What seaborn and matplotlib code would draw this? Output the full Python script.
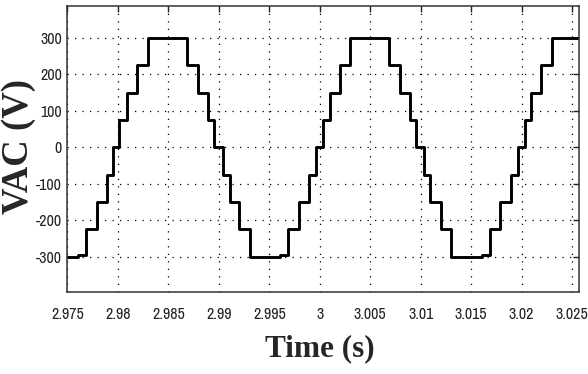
import matplotlib
matplotlib.use("Agg")
import matplotlib.pyplot as plt
from matplotlib import font_manager
import seaborn as sns
import pandas as pd

t_start = 2.975
t_end = 3.0257
v_start = -300
edge_times = [2.97607, 2.97686, 2.97792, 2.97897, 2.97956, 2.98016, 2.98095, 2.98188,
              2.98297, 2.98690, 2.98799, 2.98898, 2.98957, 2.99037, 2.99106, 2.99202,
              2.99311, 2.99608, 2.99681, 2.99790, 2.99889, 2.99966, 3.00032, 3.00104,
              3.00196, 3.00302, 3.00686, 3.00791, 3.00890, 3.00957, 3.01036, 3.01095,
              3.01201, 3.01301, 3.01608, 3.01690, 3.01789, 3.01895, 3.01961, 3.02037,
              3.02093, 3.02193, 3.02302]
edge_levels = [-294, -225, -150, -75, 0, 75, 150, 225,
               300, 225, 150, 75, 0, -75, -150, -225,
               -300, -294, -225, -150, -75, 0, 75, 150,
               225, 300, 225, 150, 75, 0, -75, -150,
               -225, -300, -294, -225, -150, -75, 0, 75,
               150, 225, 300]

x_ticks = [2.975, 2.98, 2.985, 2.99, 2.995, 3.0, 3.005, 3.01, 3.015, 3.02, 3.025]
x_tick_labels = ["2.975", "2.98", "2.985", "2.99", "2.995", "3", "3.005", "3.01",
                 "3.015", "3.02", "3.025"]
y_ticks = [-300, -200, -100, 0, 100, 200, 300]
y_tick_labels = ["-300", "-200", "-100", "0", "100", "200", "300"]

times = [t_start] + edge_times + [t_end]
volts = [v_start] + edge_levels + [edge_levels[-1]]
df = pd.DataFrame({"t": times, "v": volts})

installed = set(f.name for f in font_manager.fontManager.ttflist)
narrow = next((n for n in ["Pragati Narrow", "Archivo Narrow", "PT Sans Narrow",
                           "Roboto Condensed", "Liberation Sans Narrow"] if n in installed),
              None)
tick_family = [narrow, "DejaVu Sans"] if narrow else ["DejaVu Sans"]
tick_size = 12.5 if narrow else 9

sns.set_style("white")
fig = plt.figure(figsize=(5.88, 3.74), dpi=100)
ax = fig.add_axes([0.1145, 0.220, 0.8707, 0.7632])

sns.lineplot(data=df, x="t", y="v", ax=ax, color="black", linewidth=2.1,
             drawstyle="steps-post", estimator=None, sort=False)

ax.set_xlim(t_start, t_end)
ax.set_ylim(-396, 387)

tick_font = dict(family=tick_family, size=tick_size, color="#111111")
ax.set_xticks(x_ticks)
ax.set_xticklabels(x_tick_labels, fontdict=tick_font)
ax.set_yticks(y_ticks)
ax.set_yticklabels(y_tick_labels, fontdict=tick_font)

ax.grid(True, color="black", linestyle=(0, (1, 5)), linewidth=0.9)
ax.tick_params(direction="in", length=4, width=1, top=True, right=True,
               colors="#222222")
ax.tick_params(axis="x", pad=11)
ax.tick_params(axis="y", pad=4)
for s in ax.spines.values():
    s.set_visible(True)
    s.set_color("#333333")
    s.set_linewidth(1.1)

label_font = dict(family="Liberation Serif", weight="bold")
ax.set_xlabel("Time (s)", fontsize=22.5, **label_font)
ax.set_ylabel("VAC (V)", fontsize=26.5, **label_font)
ax.xaxis.label.set_va("center")
ax.yaxis.label.set_va("center")
ax.xaxis.set_label_coords(0.4935, -0.2008)
ax.yaxis.set_label_coords(-0.095, 0.51)

fig.savefig("out.png", dpi=100, facecolor="white")
